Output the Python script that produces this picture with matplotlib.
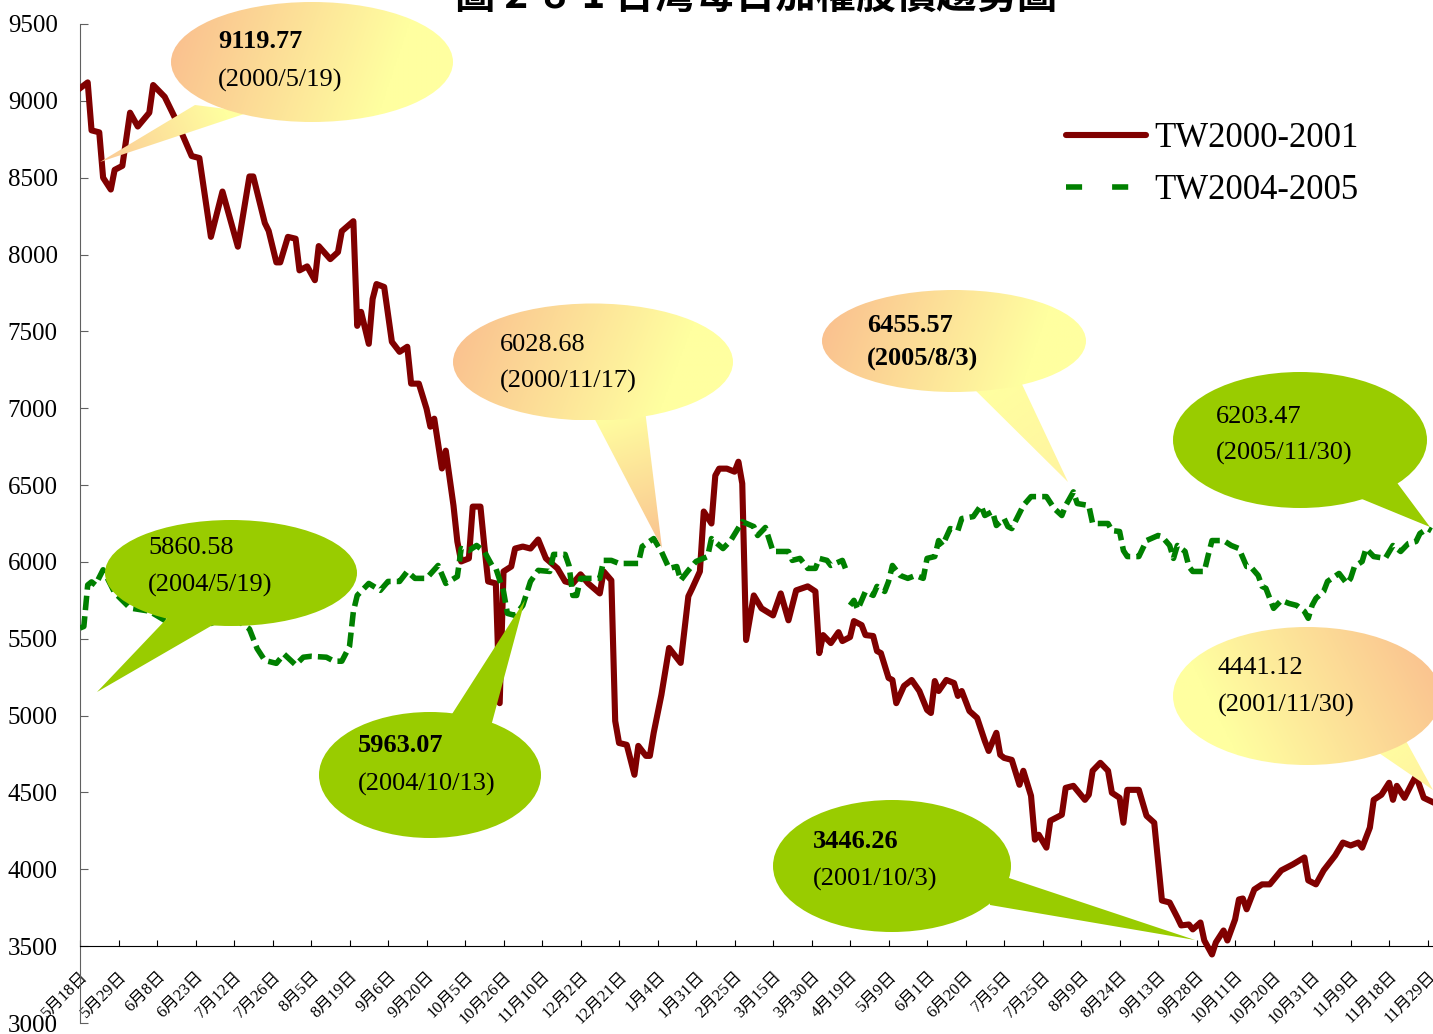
import numpy as np
import matplotlib
matplotlib.use("Agg")
import matplotlib.pyplot as plt
from matplotlib.patches import Ellipse, Polygon
from matplotlib.lines import Line2D
from matplotlib.colors import to_rgb

plt.rcParams['font.family'] = ['Liberation Serif', 'Noto Sans CJK TC']

# trading-day index (ticks every 10 days) and index values
red_day = [0, 2, 3, 5, 6, 8, 9, 11, 13, 15, 18, 19, 22, 25, 29, 31, 34, 37, 41, 44,
           45, 48, 49, 51, 52, 54, 56, 57, 59, 61, 62, 65, 67, 68, 71, 72, 73, 75, 76, 77,
           79, 81, 83, 85, 86, 88, 90, 91, 92, 94, 95, 97, 98, 99, 101, 102, 104, 105, 106, 108,
           109, 110, 112, 113, 115, 117, 119, 121, 124, 126, 128, 130, 132, 135, 136, 138, 139, 140, 142, 144,
           145, 147, 148, 149, 151, 153, 156, 158, 159, 161, 162, 164, 165, 166, 168, 170, 171, 172, 173, 175,
           177, 180, 182, 184, 186, 189, 191, 192, 193, 195, 197, 198, 200, 201, 203, 204, 206, 207, 208, 210,
           211, 212, 214, 216, 218, 220, 221, 222, 223, 225, 227, 228, 229, 231, 233, 235, 236, 238, 239, 240,
           242, 244, 245, 247, 248, 249, 251, 252, 255, 256, 258, 261, 262, 263, 265, 267, 268, 270, 271, 272,
           275, 277, 279, 281, 283, 285, 286, 288, 289, 291, 292, 294, 295, 297, 298, 300, 301, 302, 303, 305,
           307, 309, 312, 315, 318, 319, 321, 323, 326, 328, 330, 332, 333, 335, 336, 338, 340, 341, 342, 344,
           346, 347, 349, 351]
red_val = [9082, 9120, 8808, 8795, 8500, 8423, 8551, 8577, 8923, 8833, 8923, 9103, 9026, 8872, 8641, 8628, 8115, 8410, 8051, 8508,
           8508, 8205, 8154, 7949, 7949, 8115, 8103, 7897, 7923, 7833, 8055, 7970, 8016, 8152, 8217, 7536, 7627, 7419, 7711, 7808,
           7789, 7432, 7367, 7400, 7160, 7160, 6997, 6880, 6932, 6608, 6724, 6367, 6133, 6003, 6023, 6360, 6360, 6107, 5873, 5860,
           5081, 5938, 5970, 6087, 6100, 6087, 6146, 6023, 5958, 5873, 5860, 5919, 5860, 5795, 5938, 5880, 4965, 4822, 4810, 4615,
           4803, 4738, 4738, 4888, 5135, 5440, 5343, 5776, 5828, 5938, 6328, 6250, 6562, 6607, 6607, 6587, 6652, 6510, 5492, 5782,
           5698, 5652, 5795, 5620, 5815, 5841, 5808, 5407, 5524, 5472, 5543, 5485, 5511, 5615, 5589, 5524, 5518, 5420, 5407, 5245,
           5232, 5081, 5193, 5232, 5160, 5037, 5017, 5225, 5160, 5232, 5212, 5128, 5160, 5030, 4985, 4835, 4770, 4888, 4745, 4725,
           4712, 4550, 4641, 4478, 4193, 4225, 4141, 4316, 4355, 4530, 4543, 4452, 4485, 4641, 4693, 4641, 4498, 4465, 4303, 4517,
           4517, 4348, 4303, 3797, 3784, 3687, 3635, 3641, 3609, 3654, 3537, 3446, 3524, 3602, 3537, 3674, 3804, 3810, 3740, 3869,
           3902, 3902, 3993, 4032, 4077, 3928, 3902, 3993, 4090, 4174, 4155, 4174, 4141, 4271, 4452, 4485, 4563, 4452, 4543, 4465,
           4563, 4608, 4465, 4441]

green_day = [0, 1, 2, 3, 4, 6, 9, 13, 18, 22, 27, 30, 34, 38, 42, 44, 46, 48, 51, 53,
             56, 58, 60, 64, 66, 68, 70, 71, 72, 75, 78, 80, 83, 85, 87, 90, 93, 95, 98, 99,
             101, 103, 105, 107, 108, 110, 111, 113, 115, 117, 119, 122, 123, 126, 127, 128, 129, 130, 135, 136,
             138, 140, 145, 146, 149, 151, 153, 155, 156, 158, 160, 163, 164, 167, 169, 172, 175, 176, 178, 180,
             184, 185, 187, 189, 191, 192, 194, 195, 198, 199, 199.5, 200, 201, 202, 204, 206, 207, 209, 210, 211,
             213, 215, 217, 219, 220, 222, 223, 224, 226, 228, 229, 232, 234, 235, 237, 238, 240, 241, 242, 245,
             247, 251, 253, 255, 256, 258, 259, 262, 263, 267, 268, 270, 271, 272, 275, 277, 280, 281, 283, 284,
             285, 287, 288, 289, 292, 293, 294, 297, 299, 301, 303, 304, 306, 307, 308, 309, 310, 312, 314, 316,
             318, 319, 320, 321, 323, 324, 327, 329, 330, 331, 333, 334, 336, 339, 341, 343, 345, 347, 348, 350,
             351]
green_val = [5570, 5580, 5850, 5870, 5850, 5949, 5800, 5700, 5680, 5620, 5564, 5570, 5600, 5640, 5600, 5564, 5436, 5359, 5340, 5400,
             5330, 5380, 5386, 5380, 5354, 5354, 5451, 5678, 5782, 5860, 5815, 5873, 5873, 5938, 5893, 5893, 5977, 5860, 5905, 6087,
             6074, 6107, 6068, 5977, 5958, 5808, 5665, 5652, 5717, 5873, 5945, 5938, 6049, 6049, 5977, 5782, 5782, 5893, 5893, 6010,
             6010, 5990, 5990, 6100, 6152, 6068, 5958, 5970, 5880, 5945, 6003, 6035, 6152, 6087, 6139, 6262, 6230, 6172, 6224, 6068,
             6068, 6010, 6023, 5958, 5958, 6023, 6010, 5977, 6010, 5945, np.nan, 5717, 5750, 5691, 5808, 5782, 5841, 5808, 5873, 5977,
             5912, 5893, 5912, 5893, 6023, 6035, 6139, 6107, 6217, 6204, 6282, 6295, 6367, 6302, 6328, 6237, 6282, 6230, 6217, 6367,
             6425, 6425, 6348, 6302, 6367, 6456, 6380, 6367, 6250, 6250, 6204, 6198, 6074, 6035, 6035, 6139, 6172, 6165, 6107, 6023,
             6107, 6068, 5970, 5938, 5938, 6042, 6139, 6139, 6107, 6087, 5970, 5970, 5912, 5841, 5828, 5763, 5698, 5750, 5730, 5717,
             5678, 5633, 5717, 5763, 5808, 5873, 5925, 5860, 5893, 5970, 6003, 6087, 6035, 6023, 6107, 6068, 6120, 6133, 6185, 6217,
             6203]

tick_labels = ['5月18日', '5月29日', '6月8日', '6月23日', '7月12日', '7月26日', '8月5日', '8月19日',
               '9月6日', '9月20日', '10月5日', '10月26日', '11月10日', '12月2日', '12月21日', '1月4日',
               '1月31日', '2月25日', '3月15日', '3月30日', '4月19日', '5月9日', '6月1日', '6月20日',
               '7月5日', '7月25日', '8月9日', '8月24日', '9月13日', '9月28日', '10月11日', '10月20日',
               '10月31日', '11月9日', '11月18日', '11月29日']

W, H = 1433, 1034
fig = plt.figure(figsize=(W / 100, H / 100), dpi=100)
ax = fig.add_axes([80 / W, 11 / H, 1353 / W, 999 / H])

ax.plot(red_day, red_val, color='#800000', lw=4.4, solid_joinstyle='round',
        label='TW2000-2001', zorder=3)
ax.plot(green_day, green_val, color='#008000', lw=4.0, dashes=(2.6, 1.1),
        label='TW2004-2005', zorder=4)

ax.set_xlim(0, 351.4)
ax.set_ylim(3000, 9500)
ax.set_yticks(range(3000, 9501, 500))
ax.set_xticks(range(0, 351, 10))

ax.spines['top'].set_visible(False)
ax.spines['right'].set_visible(False)
ax.spines['bottom'].set_position(('data', 3500))
ax.spines['left'].set_color('#606060')
ax.tick_params(axis='y', direction='in', length=6, labelsize=18, pad=16, color='#606060')
ax.tick_params(axis='x', direction='in', length=4, pad=16)

ax.set_xticklabels(tick_labels, fontsize=12, rotation=45, ha='right',
                   rotation_mode='anchor')

handles = [Line2D([], [], color='#800000', lw=4.4, solid_capstyle='round'),
           Line2D([], [], color='#008000', lw=4.0, dashes=(2.9, 5.4))]
ax.legend(handles, ['TW2000-2001', 'TW2004-2005'], loc='upper left',
          bbox_to_anchor=(1066 / W, 1 - 122 / H), bbox_transform=fig.transFigure,
          frameon=False, fontsize=25, handlelength=2.3, handletextpad=0.25,
          labelspacing=0.55, borderpad=0, borderaxespad=0)

fig.text(756 / W, 1 - 9 / H, '圖 2-8-1 台灣每日加權股價趨勢圖', ha='center', va='baseline',
         fontsize=29, fontweight='bold', family=['Noto Sans CJK TC'])

# callout bubbles, drawn on an overlay in pixel units
ov = fig.add_axes([0, 0, 1, 1])
ov.axis('off')

ORANGE = '#FAC08F'
YELLOW = '#FFFFA0'
GREEN_FILL = '#99CC00'


def grad_fill(patch, box, p0, p1, c0, c1, z):
    x0, x1, y0, y1 = box
    X, Y = np.meshgrid(np.linspace(x0, x1, 200), np.linspace(y0, y1, 200))
    d = np.subtract(p1, p0)
    t = ((X - p0[0]) * d[0] + (Y - p0[1]) * d[1]) / float(d @ d)
    t = np.clip(t, 0, 1)[..., None]
    img = (1 - t) * np.array(to_rgb(c0)) + t * np.array(to_rgb(c1))
    im = ov.imshow(img, extent=(x0, x1, y1, y0), origin='upper', aspect='auto',
                   interpolation='bilinear', zorder=z)
    im.set_clip_path(patch)


def bubble(center, size, tail, lines, fill=None, grad=None, tail_tip_col=None):
    cx, cy = center
    w, h = size
    ell = Ellipse((cx, cy), w, h, facecolor=fill if fill else 'none', edgecolor='none', zorder=2)
    tri = Polygon(tail, closed=True, facecolor=fill if fill else 'none', edgecolor='none', zorder=2)
    ov.add_patch(tri)
    ov.add_patch(ell)
    if grad is not None:
        p0, p1 = grad
        grad_fill(ell, (cx - w / 2, cx + w / 2, cy - h / 2, cy + h / 2), p0, p1, ORANGE, YELLOW, 2)
        xs = [p[0] for p in tail]
        ys = [p[1] for p in tail]
        base = ((tail[0][0] + tail[1][0]) / 2, (tail[0][1] + tail[1][1]) / 2)
        grad_fill(tri, (min(xs), max(xs), min(ys), max(ys)), base, tail[2],
                  YELLOW, tail_tip_col, 1.9)
    for (tx, ty, txt, bold) in lines:
        ov.text(tx, ty, txt, ha='left', va='center', fontsize=19,
                fontweight='bold' if bold else 'normal', zorder=5)


bubble((312, 62), (282, 120), [(195, 105), (250, 112), (100, 162)],
       [(218, 42, '9119.77', True), (218, 80, '(2000/5/19)', False)],
       grad=((171, 40), (380, 110)), tail_tip_col='#FBC996')
bubble((593, 362), (280, 117), [(590, 410), (645, 410), (662, 548)],
       [(500, 345, '6028.68', False), (500, 381, '(2000/11/17)', False)],
       grad=((453, 330), (660, 410)), tail_tip_col='#FAC290')
bubble((954, 341), (264, 102), [(965, 380), (1020, 380), (1068, 482)],
       [(867, 325, '6455.57', True), (867, 359, '(2005/8/3)', True)],
       grad=((822, 320), (1020, 390)), tail_tip_col='#FFF4A0')
bubble((1307, 696), (268, 138), [(1360, 740), (1400, 730), (1433, 790)],
       [(1218, 668, '4441.12', False), (1218, 705, '(2001/11/30)', False)],
       grad=((1433, 640), (1230, 740)), tail_tip_col='#FFF2A0')
bubble((1300, 440), (254, 136), [(1340, 490), (1395, 480), (1430, 527)],
       [(1216, 417, '6203.47', False), (1216, 453, '(2005/11/30)', False)],
       fill=GREEN_FILL)
bubble((231, 573), (252, 106), [(175, 610), (230, 615), (97, 692)],
       [(148, 548, '5860.58', False), (148, 585, '(2004/5/19)', False)],
       fill=GREEN_FILL)
bubble((430, 775), (222, 126), [(445, 725), (490, 730), (525, 600)],
       [(358, 746, '5963.07', True), (358, 784, '(2004/10/13)', False)],
       fill=GREEN_FILL)
bubble((892, 866), (238, 132), [(985, 870), (990, 905), (1195, 940)],
       [(813, 841, '3446.26', True), (813, 879, '(2001/10/3)', False)],
       fill=GREEN_FILL)

ov.set_xlim(0, W)
ov.set_ylim(H, 0)

fig.savefig('out.png', dpi=100)
